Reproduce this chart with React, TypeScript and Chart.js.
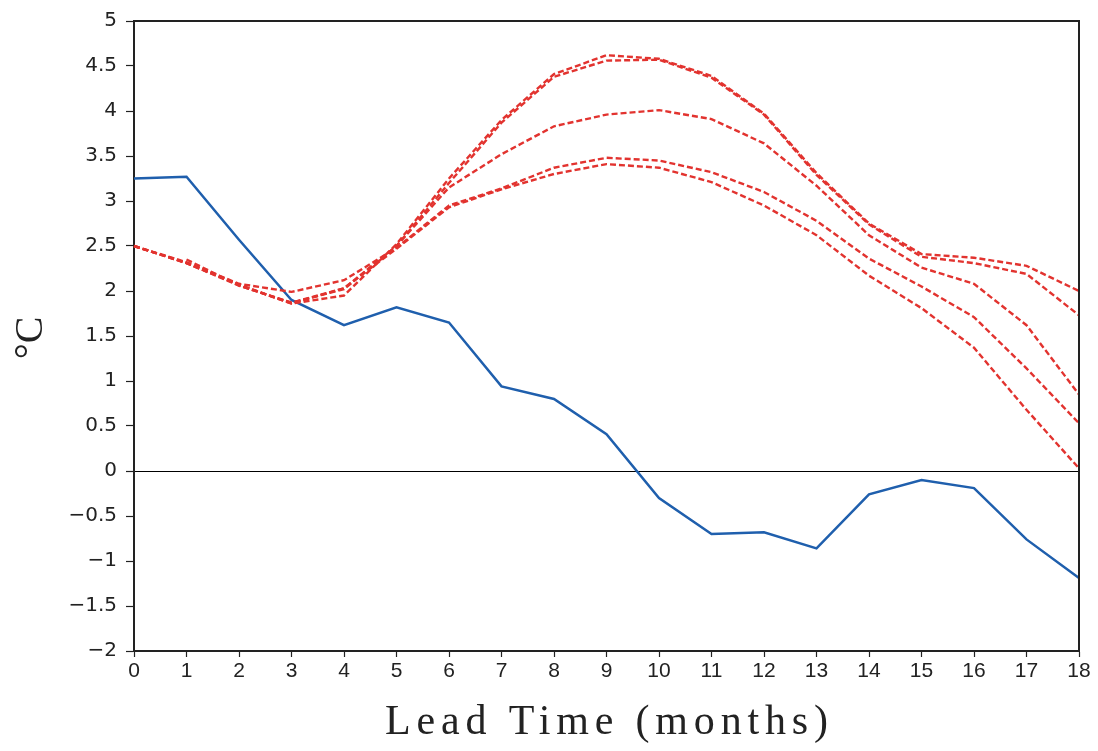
import React, { useEffect, useRef } from "react";
import { Chart, registerables } from "chart.js";

Chart.register(...registerables);

const leadMonths = ["0","1","2","3","4","5","6","7","8","9","10","11","12","13","14","15","16","17","18"];
const yTickMin = -2;
const yTickMax = 5;
const yTickStep = 0.5;

const observed = [3.25, 3.27, 2.57, 1.90, 1.62, 1.82, 1.65, 0.94, 0.80, 0.41, -0.30, -0.70, -0.68, -0.86, -0.26, -0.10, -0.19, -0.76, -1.19];

const forecast1 = [2.50, 2.31, 2.07, 1.86, 1.95, 2.52, 3.25, 3.90, 4.41, 4.62, 4.58, 4.39, 3.97, 3.31, 2.75, 2.41, 2.37, 2.28, 2.00];
const forecast2 = [2.50, 2.31, 2.06, 1.87, 2.02, 2.50, 3.20, 3.87, 4.38, 4.56, 4.57, 4.37, 3.96, 3.29, 2.74, 2.38, 2.31, 2.19, 1.73];
const forecast3 = [2.50, 2.31, 2.07, 1.86, 2.03, 2.50, 3.15, 3.52, 3.83, 3.96, 4.01, 3.91, 3.64, 3.17, 2.62, 2.26, 2.08, 1.62, 0.85];
const forecast4 = [2.50, 2.32, 2.08, 1.99, 2.12, 2.48, 2.95, 3.14, 3.37, 3.48, 3.45, 3.32, 3.10, 2.78, 2.36, 2.05, 1.71, 1.14, 0.53];
const forecast5 = [null, 2.35, 2.06, 1.87, 2.03, 2.47, 2.93, 3.13, 3.30, 3.41, 3.37, 3.21, 2.95, 2.62, 2.17, 1.81, 1.37, 0.68, 0.03];

const xTitle = "Lead Time (months)";
const yTitle = "°C";

const RED = "#e2332f";
const BLUE = "#1f5fad";
const INK = "#222222";

export default function App() {
  const ref = useRef<HTMLCanvasElement | null>(null);

  useEffect(() => {
    if (!ref.current) return;
    const redSet = (data: (number | null)[]) => ({
      data,
      borderColor: RED,
      borderWidth: 2.4,
      borderDash: [6, 3],
      pointRadius: 0,
      tension: 0,
      fill: false,
    });

    const framePlugin = {
      id: "frameAndTitles",
      afterDraw(chart: any) {
        const { ctx, chartArea } = chart;
        const { left, right, top, bottom } = chartArea;
        ctx.save();
        ctx.strokeStyle = INK;
        ctx.lineWidth = 2;
        ctx.beginPath();
        ctx.moveTo(left, top);
        ctx.lineTo(right, top);
        ctx.lineTo(right, bottom);
        ctx.stroke();

        // x title
        ctx.fillStyle = INK;
        ctx.font = '42px "Liberation Serif", serif';
        ctx.textAlign = "left";
        ctx.textBaseline = "alphabetic";
        (ctx as any).letterSpacing = "0px";
        const w0 = ctx.measureText(xTitle).width;
        const targetW = 443;
        const sp = Math.max(0, (targetW - w0) / (xTitle.length - 1));
        (ctx as any).letterSpacing = sp + "px";
        const cx = (left + right) / 2;
        ctx.fillText(xTitle, cx - targetW / 2, 734);
        (ctx as any).letterSpacing = "0px";

        // y title
        ctx.translate(42, 338);
        ctx.rotate(-Math.PI / 2);
        ctx.textAlign = "center";
        ctx.font = '40px "Liberation Serif", serif';
        ctx.fillText(yTitle, 0, 0);
        ctx.restore();
      },
    };

    const chart = new Chart(ref.current, {
      type: "line",
      data: {
        labels: leadMonths,
        datasets: [
          redSet(forecast1),
          redSet(forecast2),
          redSet(forecast3),
          redSet(forecast4),
          redSet(forecast5),
          {
            data: observed,
            borderColor: BLUE,
            borderWidth: 2.5,
            pointRadius: 0,
            tension: 0,
            fill: false,
          },
        ],
      },
      options: {
        responsive: false,
        animation: false,
        layout: { padding: { top: 20, right: 19, left: 0, bottom: 0 } },
        plugins: {
          legend: { display: false },
          tooltip: { enabled: false },
        },
        scales: {
          x: {
            type: "category",
            offset: false,
            afterFit(scale: any) {
              scale.height = 100;
            },
            grid: {
              drawOnChartArea: false,
              drawTicks: true,
              tickLength: 6,
              tickColor: INK,
              tickWidth: 1.2,
            },
            border: { display: true, color: INK, width: 2 },
            ticks: {
              color: INK,
              padding: 2,
              maxRotation: 0,
              autoSkip: false,
              font: { family: '"Liberation Sans Narrow", "Liberation Sans", sans-serif', size: 21 },
            },
          },
          y: {
            type: "linear",
            min: yTickMin,
            max: yTickMax,
            afterFit(scale: any) {
              scale.width = 134;
            },
            grid: {
              drawOnChartArea: true,
              drawTicks: true,
              tickLength: 8,
              tickColor: INK,
              tickWidth: 1.2,
              lineWidth: 1,
              color: (c: any) => (c.tick && c.tick.value === 0 ? "#000000" : "rgba(0,0,0,0)"),
            },
            border: { display: true, color: INK, width: 2 },
            ticks: {
              stepSize: yTickStep,
              color: INK,
              padding: 9,
              font: { family: '"DejaVu Sans", sans-serif', size: 20 },
              callback: (v: any) => String(Number(v)).replace("-", "\u2212"),
            },
          },
        },
      },
      plugins: [framePlugin],
    } as any);

    return () => chart.destroy();
  }, []);

  return (
    <div style={{ position: "fixed", left: 0, top: 0, width: 1098, height: 751, background: "#fff" }}>
      <canvas ref={ref} width={1098} height={751} style={{ display: "block" }} />
    </div>
  );
}
